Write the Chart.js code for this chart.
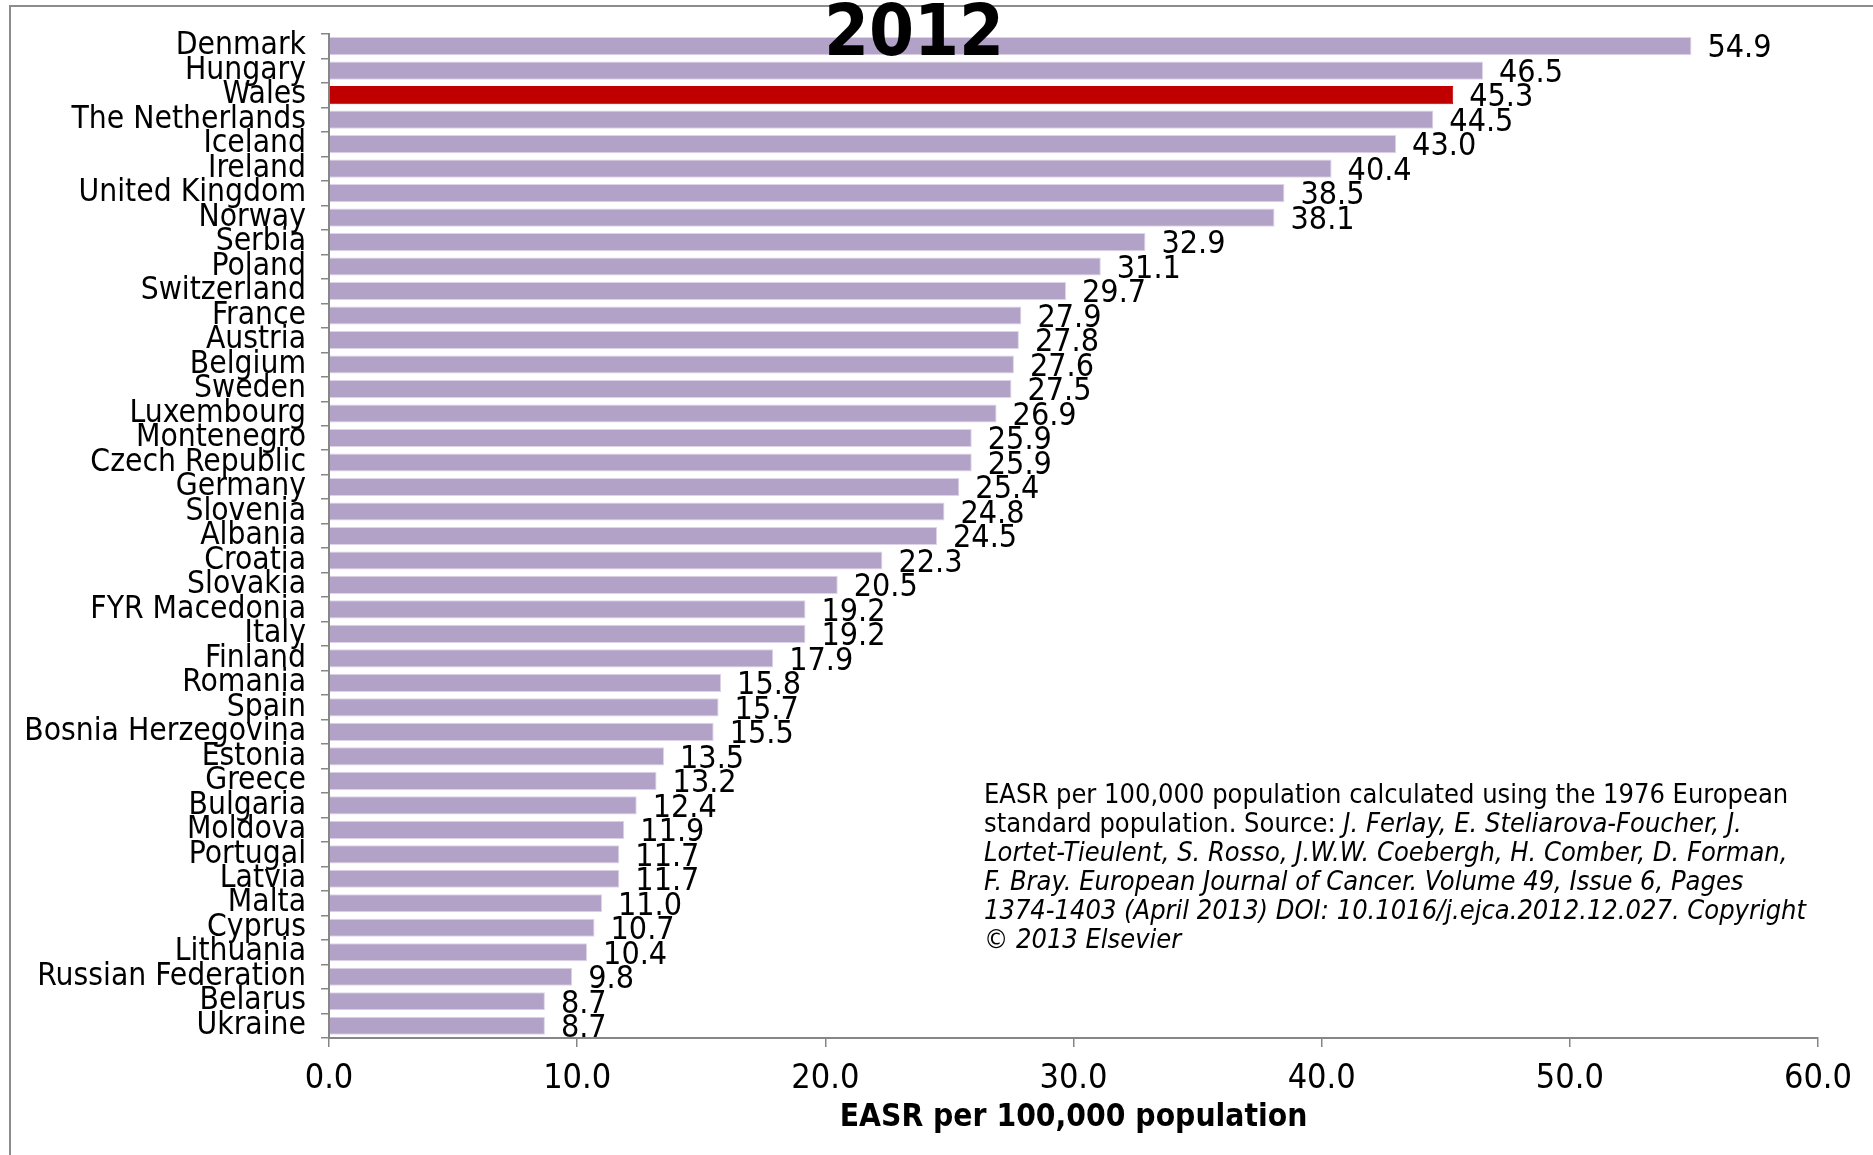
<!DOCTYPE html>
<html>
<head>
<meta charset="utf-8">
<script src="https://cdn.jsdelivr.net/npm/chart.js@4/dist/chart.umd.min.js"></script>
<style>
  html, body { margin: 0; padding: 0; background: #fff; }
  #wrap { width: 1873px; height: 1155px; position: relative; }
</style>
</head>
<body>
<div id="wrap"><canvas id="c" width="1873" height="1155"></canvas></div>
<script>
// Age-standardised rates (EASR per 100,000), 2012
const countries = [
  'Denmark', 'Hungary', 'Wales', 'The Netherlands', 'Iceland', 'Ireland',
  'United Kingdom', 'Norway', 'Serbia', 'Poland', 'Switzerland', 'France',
  'Austria', 'Belgium', 'Sweden', 'Luxembourg', 'Montenegro', 'Czech Republic',
  'Germany', 'Slovenia', 'Albania', 'Croatia', 'Slovakia', 'FYR Macedonia',
  'Italy', 'Finland', 'Romania', 'Spain', 'Bosnia Herzegovina', 'Estonia',
  'Greece', 'Bulgaria', 'Moldova', 'Portugal', 'Latvia', 'Malta', 'Cyprus',
  'Lithuania', 'Russian Federation', 'Belarus', 'Ukraine'
];
const rates = [
  54.9, 46.5, 45.3, 44.5, 43.0, 40.4,
  38.5, 38.1, 32.9, 31.1, 29.7, 27.9,
  27.8, 27.6, 27.5, 26.9, 25.9, 25.9,
  25.4, 24.8, 24.5, 22.3, 20.5, 19.2,
  19.2, 17.9, 15.8, 15.7, 15.5, 13.5,
  13.2, 12.4, 11.9, 11.7, 11.7, 11.0, 10.7,
  10.4, 9.8, 8.7, 8.7
];
const highlighted = ['Wales'];
const xTicks = [0, 10, 20, 30, 40, 50, 60];
const chartTitle = '2012';
const xAxisTitle = 'EASR per 100,000 population';
const noteLines = [
  [['EASR per 100,000 population calculated using the 1976 European', false]],
  [['standard population. Source: ', false], ['J. Ferlay, E. Steliarova-Foucher, J.', true]],
  [['Lortet-Tieulent, S. Rosso, J.W.W. Coebergh, H. Comber, D. Forman,', true]],
  [['F. Bray. European Journal of Cancer. Volume 49, Issue 6, Pages', true]],
  [['1374-1403 (April 2013) DOI: 10.1016/j.ejca.2012.12.027. Copyright', true]],
  [['\u00A9 2013 Elsevier', true]]
];

const FONT = "'DejaVu Sans Condensed', 'DejaVu Sans', sans-serif";
const BAR = '#B3A2C7';
const BAR_EDGE = '#DDD4E7';
const HIGHLIGHT = '#C00000';
const AXIS = '#868686';
const CAT_SIZE = 31.5;
const VALUE_SIZE = 32;
const TICK_SIZE = 34;

const barColors = countries.map(c => highlighted.includes(c) ? HIGHLIGHT : BAR);
const barEdges = countries.map(c => highlighted.includes(c) ? HIGHLIGHT : BAR_EDGE);

// outer frame of the chart object
const framePlugin = {
  id: 'frame',
  beforeDraw(chart) {
    const ctx = chart.ctx;
    ctx.save();
    ctx.strokeStyle = '#8c8c8c';
    ctx.lineWidth = 2;
    ctx.beginPath();
    ctx.moveTo(10, chart.height + 5);
    ctx.lineTo(10, 6);
    ctx.lineTo(chart.width + 5, 6);
    ctx.stroke();
    ctx.restore();
  }
};

// value labels at the end of each bar, title and source note
const overlayPlugin = {
  id: 'overlay',
  afterDatasetsDraw(chart) {
    const ctx = chart.ctx;
    const meta = chart.getDatasetMeta(0);
    ctx.save();
    ctx.fillStyle = '#000';
    ctx.font = VALUE_SIZE + 'px ' + FONT;
    ctx.textAlign = 'left';
    ctx.textBaseline = 'middle';
    meta.data.forEach((bar, i) => {
      ctx.fillText(rates[i].toFixed(1), bar.x + 16, bar.y + 3);
    });

    // title, drawn over the bars
    ctx.font = 'bold 72px ' + FONT;
    ctx.textAlign = 'center';
    ctx.textBaseline = 'middle';
    ctx.fillText(chartTitle, chart.width * 0.488, 36);

    // source note
    ctx.textAlign = 'left';
    ctx.textBaseline = 'middle';
    const x0 = 984, y0 = 796, lh = 29;
    noteLines.forEach((runs, li) => {
      let x = x0;
      runs.forEach(([txt, italic]) => {
        ctx.font = (italic ? 'italic ' : '') + '27px ' + FONT;
        ctx.fillText(txt, x, y0 + li * lh);
        x += ctx.measureText(txt).width;
      });
    });
    ctx.restore();
  }
};

new Chart(document.getElementById('c'), {
  type: 'bar',
  data: {
    labels: countries,
    datasets: [{
      data: rates,
      backgroundColor: barColors,
      borderColor: barEdges,
      borderWidth: 1,
      categoryPercentage: 1.0,
      barPercentage: 0.74
    }]
  },
  options: {
    indexAxis: 'y',
    responsive: false,
    animation: false,
    devicePixelRatio: 1,
    layout: { padding: { top: 32, right: 55, left: 0, bottom: 0 } },
    plugins: {
      legend: { display: false },
      tooltip: { enabled: false },
      title: { display: false }
    },
    scales: {
      y: {
        type: 'category',
        offset: true,
        grid: {
          offset: true,
          drawOnChartArea: false,
          drawTicks: true,
          tickLength: 8,
          color: AXIS,
          lineWidth: 1.5
        },
        border: { display: true, color: AXIS, width: 2 },
        ticks: {
          autoSkip: false,
          color: '#000',
          padding: 15,
          font: { family: FONT, size: CAT_SIZE }
        },
        afterFit(scale) { scale.width = 329; }
      },
      x: {
        type: 'linear',
        min: xTicks[0],
        max: xTicks[xTicks.length - 1],
        afterBuildTicks(scale) { scale.ticks = xTicks.map(v => ({ value: v })); },
        grid: {
          drawOnChartArea: false,
          drawTicks: true,
          tickLength: 9,
          color: AXIS,
          lineWidth: 1.5
        },
        border: { display: true, color: AXIS, width: 2 },
        ticks: {
          color: '#000',
          padding: 12,
          maxRotation: 0,
          font: { family: FONT, size: TICK_SIZE },
          callback: v => Number(v).toFixed(1)
        },
        title: {
          display: true,
          text: xAxisTitle,
          color: '#000',
          padding: { top: 0, bottom: 18 },
          font: { family: FONT, size: CAT_SIZE, weight: 'bold' }
        },
        afterFit(scale) { scale.height = 117; }
      }
    }
  },
  plugins: [framePlugin, overlayPlugin]
});
</script>
</body>
</html>
